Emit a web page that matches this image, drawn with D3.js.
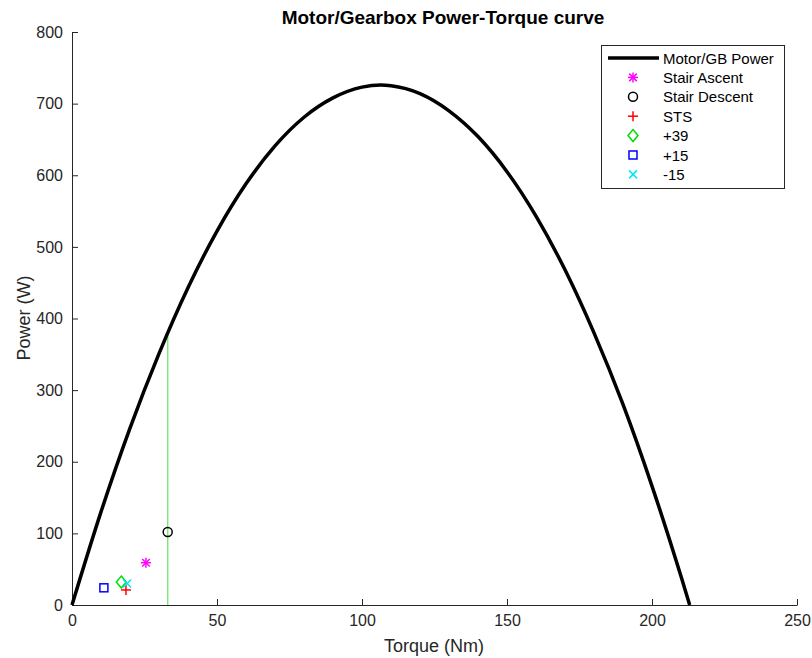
<!DOCTYPE html>
<html><head><meta charset="utf-8">
<script src="https://cdn.jsdelivr.net/npm/d3@7"></script>
<style>body{margin:0;background:#fff;} text{font-family:"Liberation Sans",Arial,Helvetica,sans-serif;}</style>
</head><body><svg id="c" width="812" height="658"></svg>
<script>
// Motor/GB power curve
const curveTorque = [0, 10, 20, 30, 40, 50, 60, 70, 80, 90, 100, 106.5, 110, 120, 130, 140, 150, 160, 170, 180, 190, 200, 210, 213];
const curvePower  = [0, 130, 247, 351, 443, 522, 588, 641, 681, 708, 723, 726, 725, 714, 690, 654, 605, 543, 468, 380, 280, 166, 40, 0];
// Green vertical line
const vlineTorque = [33, 33];
const vlinePower = [0, 378];
// Scatter points
const pointNames = ["Stair Ascent", "Stair Descent", "STS", "+39", "+15", "-15"];
const pointTorque = [25.5, 33, 18.6, 17, 11, 19];
const pointPower  = [59, 102, 21, 32, 24, 30];
const xTicks = [0, 50, 100, 150, 200, 250];
const yTicks = [0, 100, 200, 300, 400, 500, 600, 700, 800];

const svg = d3.select("#c");
const x = d3.scaleLinear().domain([0, 250]).range([72, 797]);
const y = d3.scaleLinear().domain([0, 800]).range([605, 32]);
const axisCol = "#262626";

const xa = svg.append("g").attr("transform", "translate(0,605)")
  .call(d3.axisBottom(x).tickValues(xTicks).tickSizeInner(-6).tickSizeOuter(0).tickPadding(10));
const ya = svg.append("g").attr("transform", "translate(72,0)")
  .call(d3.axisLeft(y).tickValues(yTicks).tickSizeInner(-6).tickSizeOuter(0).tickPadding(9));
[xa, ya].forEach(a => {
  a.select(".domain").attr("stroke", axisCol);
  a.selectAll(".tick line").attr("stroke", axisCol);
  a.selectAll(".tick text").attr("fill", axisCol).style("font-size", "16px")
    .style("font-family", '"Liberation Sans",Arial,sans-serif');
});
ya.selectAll(".tick line").attr("x2", 6);
xa.selectAll(".tick line").attr("y2", -6);

// Green vertical line
svg.append("line")
  .attr("x1", x(vlineTorque[0])).attr("x2", x(vlineTorque[1]))
  .attr("y1", y(vlinePower[0])).attr("y2", y(vlinePower[1]))
  .attr("stroke", "#7ee87e").attr("stroke-width", 1.5);

// Curve
const curveData = curveTorque.map((t, i) => [t, curvePower[i]]);
svg.append("path").datum(curveData)
  .attr("d", d3.line().x(d => x(d[0])).y(d => y(d[1])).curve(d3.curveMonotoneX))
  .attr("fill", "none").attr("stroke", "#000").attr("stroke-width", 3.5);

// Marker drawing
function marker(g, name, cx, cy) {
  const s = 5;
  if (name === "Stair Ascent") {
    const c = "#ff00ff";
    [[-s,0,s,0],[0,-s,0,s],[-s*0.75,-s*0.75,s*0.75,s*0.75],[-s*0.75,s*0.75,s*0.75,-s*0.75]].forEach(l =>
      g.append("line").attr("x1", cx+l[0]).attr("y1", cy+l[1]).attr("x2", cx+l[2]).attr("y2", cy+l[3]).attr("stroke", c).attr("stroke-width", 1.5));
  } else if (name === "Stair Descent") {
    g.append("circle").attr("cx", cx).attr("cy", cy).attr("r", 4.5).attr("fill", "none").attr("stroke", "#000").attr("stroke-width", 1.5);
  } else if (name === "STS") {
    const c = "#ff0000";
    g.append("line").attr("x1", cx-s).attr("x2", cx+s).attr("y1", cy).attr("y2", cy).attr("stroke", c).attr("stroke-width", 1.5);
    g.append("line").attr("x1", cx).attr("x2", cx).attr("y1", cy-s).attr("y2", cy+s).attr("stroke", c).attr("stroke-width", 1.5);
  } else if (name === "+39") {
    g.append("path").attr("d", `M${cx},${cy-s-1}L${cx+s},${cy}L${cx},${cy+s+1}L${cx-s},${cy}Z`)
      .attr("fill", "none").attr("stroke", "#00dd00").attr("stroke-width", 1.5);
  } else if (name === "+15") {
    g.append("rect").attr("x", cx-4).attr("y", cy-4).attr("width", 8).attr("height", 8)
      .attr("fill", "none").attr("stroke", "#0000ff").attr("stroke-width", 1.5);
  } else if (name === "-15") {
    const c = "#00e5ff", t = 4;
    g.append("line").attr("x1", cx-t).attr("x2", cx+t).attr("y1", cy-t).attr("y2", cy+t).attr("stroke", c).attr("stroke-width", 1.5);
    g.append("line").attr("x1", cx-t).attr("x2", cx+t).attr("y1", cy+t).attr("y2", cy-t).attr("stroke", c).attr("stroke-width", 1.5);
  }
}
const pg = svg.append("g");
pointNames.forEach((n, i) => marker(pg, n, x(pointTorque[i]), y(pointPower[i])));

// Title and labels
svg.append("text").attr("x", 443).attr("y", 24).attr("text-anchor", "middle")
  .style("font-size", "19px").style("font-weight", "bold").attr("fill", "#000").text("Motor/Gearbox Power-Torque curve");
svg.append("text").attr("x", 434).attr("y", 652).attr("text-anchor", "middle")
  .style("font-size", "18px").attr("fill", axisCol).text("Torque (Nm)");
svg.append("text").attr("transform", "translate(30,318) rotate(-90)").attr("text-anchor", "middle")
  .style("font-size", "18px").attr("fill", axisCol).text("Power (W)");

// Legend
const lg = svg.append("g");
lg.append("rect").attr("x", 601.5).attr("y", 45.5).attr("width", 183).attr("height", 143)
  .attr("fill", "#fff").attr("stroke", axisCol).attr("stroke-width", 1);
const legNames = ["Motor/GB Power"].concat(pointNames);
legNames.forEach((n, i) => {
  const cy = 58 + i * 19.4;
  if (i === 0) {
    lg.append("line").attr("x1", 608).attr("x2", 659).attr("y1", cy).attr("y2", cy).attr("stroke", "#000").attr("stroke-width", 3.5);
  } else {
    marker(lg, n, 633, cy);
  }
  lg.append("text").attr("x", 663).attr("y", cy + 5.5).style("font-size", "15px").attr("fill", "#000").text(n);
});
</script></body></html>
